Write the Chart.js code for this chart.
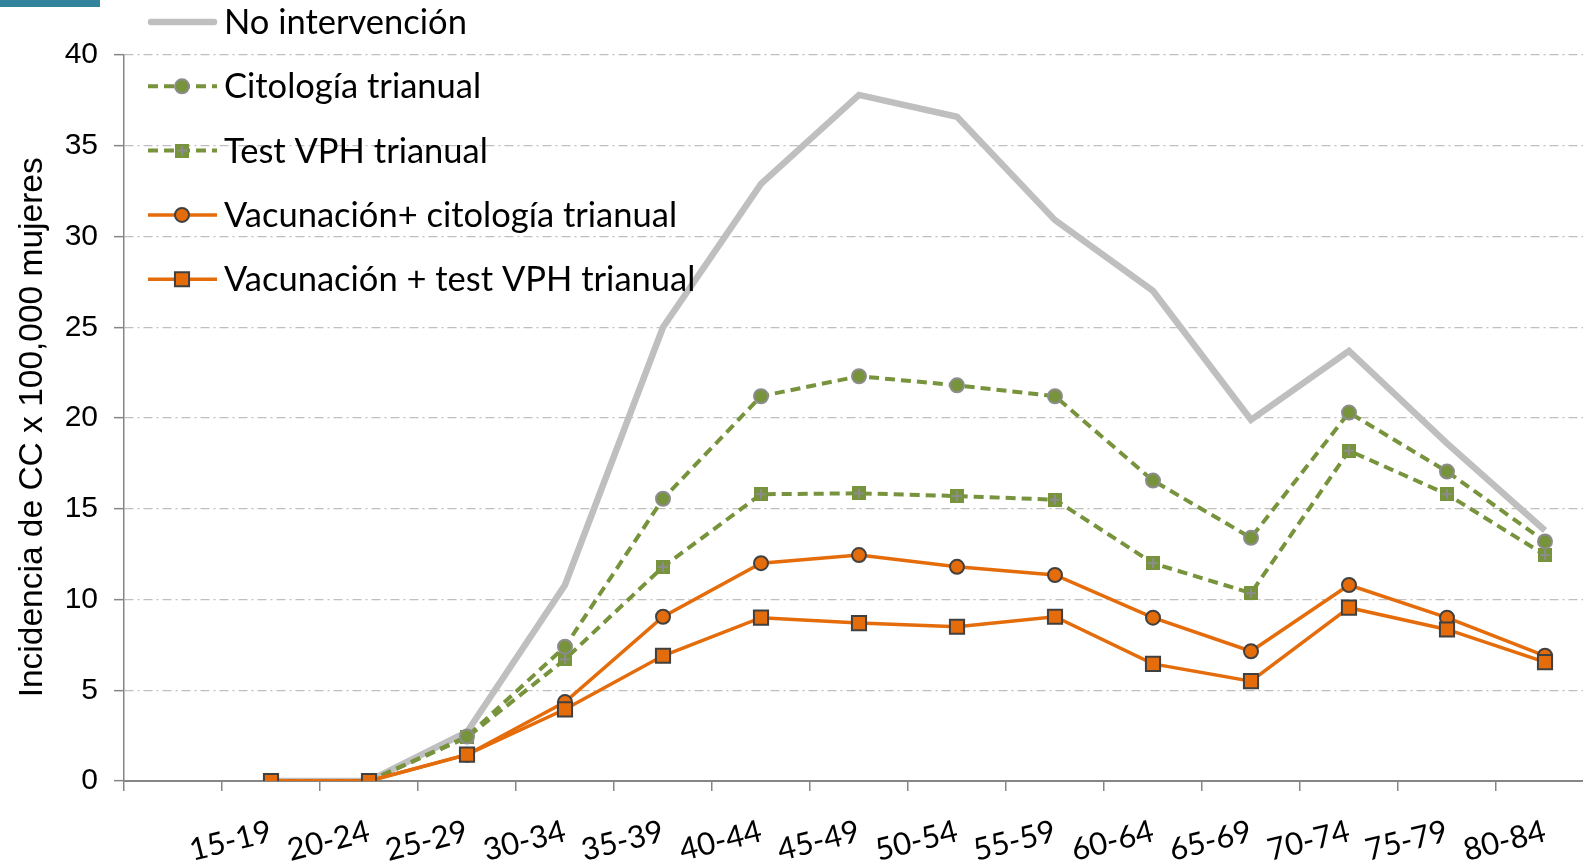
<!DOCTYPE html>
<html lang="es">
<head>
<meta charset="utf-8">
<title>Incidencia de CC</title>
<script src="https://cdn.jsdelivr.net/npm/chart.js@4.4.1/dist/chart.umd.min.js"></script>
<style>
  html, body { margin: 0; padding: 0; background: #fff; overflow: hidden; }
  #marco { position: relative; width: 1606px; height: 866px; }
  #barra { position: absolute; left: 0; top: 0; width: 100px; height: 7px; background: #31849B; z-index: 2; }
</style>
</head>
<body>
<div id="marco">
  <div id="barra"></div>
  <canvas id="grafico" width="1606" height="866"></canvas>
</div>
<script>
// grupos de edad (la primera categoría queda vacía, como en el original)
const edades = ['', '15-19', '20-24', '25-29', '30-34', '35-39', '40-44', '45-49', '50-54', '55-59', '60-64', '65-69', '70-74', '75-79', '80-84']

const noIntervencion = [null, 0, 0, 2.7, 10.8, 25.0, 32.9, 37.8, 36.6, 30.9, 27.0, 19.9, 23.7, 18.6, 13.8]
const citologia = [null, 0, 0, 2.45, 7.4, 15.55, 21.2, 22.3, 21.8, 21.2, 16.55, 13.4, 20.3, 17.05, 13.2]
const testVPH = [null, 0, 0, 2.4, 6.7, 11.8, 15.8, 15.85, 15.7, 15.5, 12.0, 10.35, 18.2, 15.8, 12.45]
const vacCitologia = [null, 0, 0, 1.45, 4.35, 9.05, 12.0, 12.45, 11.8, 11.35, 9.0, 7.15, 10.8, 9.0, 6.9]
const vacTestVPH = [null, 0, 0, 1.45, 3.95, 6.9, 9.0, 8.7, 8.5, 9.05, 6.45, 5.5, 9.55, 8.35, 6.55]

const GRIS = '#BFBFBF'
const VERDE = '#77933C'
const NARANJA = '#E46C0A'

// cuadrado verde con una cruz gris, como el marcador del test VPH
function marcadorVerde() {
    const c = document.createElement('canvas')
    c.width = 14
    c.height = 14
    const g = c.getContext('2d')
    g.fillStyle = VERDE
    g.fillRect(0, 0, 14, 14)
    g.strokeStyle = '#8C8C8C'
    g.lineWidth = 2
    g.beginPath()
    g.moveTo(7, 2); g.lineTo(7, 12)
    g.moveTo(2, 7); g.lineTo(12, 7)
    g.stroke()
    return c
}

const datasets = [
    {
        label: 'No intervención', data: noIntervencion, order: 4,
        borderColor: GRIS, backgroundColor: GRIS, borderWidth: 6.5,
        pointRadius: 0, pointHoverRadius: 0
    },
    {
        label: 'Citología trianual', data: citologia, order: 2,
        borderColor: VERDE, backgroundColor: VERDE, borderWidth: 4, borderDash: [10, 6],
        pointStyle: 'circle', pointRadius: 7, pointBackgroundColor: VERDE,
        pointBorderColor: '#8C8C8C', pointBorderWidth: 2
    },
    {
        label: 'Test VPH trianual', data: testVPH, order: 3,
        borderColor: VERDE, backgroundColor: VERDE, borderWidth: 4, borderDash: [10, 6],
        pointStyle: marcadorVerde(), pointRadius: 7, pointBorderWidth: 0
    },
    {
        label: 'Vacunación+ citología trianual', data: vacCitologia, order: 1,
        borderColor: NARANJA, backgroundColor: NARANJA, borderWidth: 3.5,
        pointStyle: 'circle', pointRadius: 7, pointBackgroundColor: NARANJA,
        pointBorderColor: '#404040', pointBorderWidth: 2
    },
    {
        label: 'Vacunación + test VPH trianual', data: vacTestVPH, order: 0,
        borderColor: NARANJA, backgroundColor: NARANJA, borderWidth: 3.5,
        pointStyle: 'rect', pointRadius: 10, pointBackgroundColor: NARANJA,
        pointBorderColor: '#404040', pointBorderWidth: 2
    }
]

// leyenda dentro del área del gráfico, arriba a la izquierda
const leyenda = {
    id: 'leyenda',
    afterDraw(chart) {
        const ctx = chart.ctx
        ctx.save()
        ctx.font = '34.5px Lato'
        ctx.textBaseline = 'middle'
        ctx.fillStyle = '#000'
        chart.data.datasets.forEach((ds, i) => {
            const y = 22 + i * 64.3
            ctx.beginPath()
            ctx.strokeStyle = ds.borderColor
            ctx.lineWidth = ds.borderWidth
            ctx.lineCap = i === 0 ? 'round' : 'butt'
            ctx.setLineDash(ds.borderDash || [])
            ctx.moveTo(i === 0 ? 151 : 148, y)
            ctx.lineTo(i === 0 ? 214 : 217, y)
            ctx.stroke()
            ctx.setLineDash([])
            if (ds.pointRadius > 0) {
                ctx.fillStyle = ds.pointBackgroundColor || ds.backgroundColor
                ctx.strokeStyle = ds.pointBorderColor || ds.borderColor
                ctx.lineWidth = ds.pointBorderWidth
                Chart.helpers.drawPoint(ctx, {
                    pointStyle: ds.pointStyle, rotation: 0,
                    radius: ds.pointRadius, borderWidth: ds.pointBorderWidth
                }, 182, y)
            }
            ctx.fillStyle = '#000'
            ctx.fillText(ds.label, 224, y + 1)
        })
        ctx.restore()
    }
}

new Chart(document.getElementById('grafico'), {
    type: 'line',
    data: { labels: edades, datasets },
    plugins: [leyenda],
    options: {
        responsive: false,
        animation: false,
        layout: { padding: { top: 55, right: 8, left: 0, bottom: 0 } },
        plugins: { legend: { display: false }, tooltip: { enabled: false } },
        elements: { line: { tension: 0 } },
        scales: {
            x: {
                type: 'category',
                offset: true,
                afterFit: s => { s.height = 85 },
                grid: { offset: true, drawOnChartArea: false, drawTicks: true, tickLength: 10, color: '#868686', lineWidth: 1.5 },
                border: { color: '#868686', width: 2 },
                ticks: {
                    autoSkip: false, minRotation: 14, maxRotation: 14, padding: 22,
                    color: '#000', font: { family: 'Lato', size: 31 }
                }
            },
            y: {
                min: 0, max: 40,
                afterFit: s => { s.width = 124 },
                grid: {
                    color: '#BFBFBF', lineWidth: 1.3, tickLength: 10,
                    tickColor: '#868686', tickWidth: 1.5, tickBorderDash: []
                },
                border: { color: '#868686', width: 1.5, dash: [9, 4, 2, 4] },
                ticks: {
                    stepSize: 5, padding: 16, color: '#000',
                    font: { family: 'Liberation Sans', size: 30 }
                },
                title: {
                    display: true, text: 'Incidencia de CC x 100,000 mujeres  ',
                    color: '#000', font: { family: 'Liberation Sans', size: 33.5 },
                    padding: { top: 13, bottom: 0 }
                }
            }
        }
    }
})
</script>
</body>
</html>
